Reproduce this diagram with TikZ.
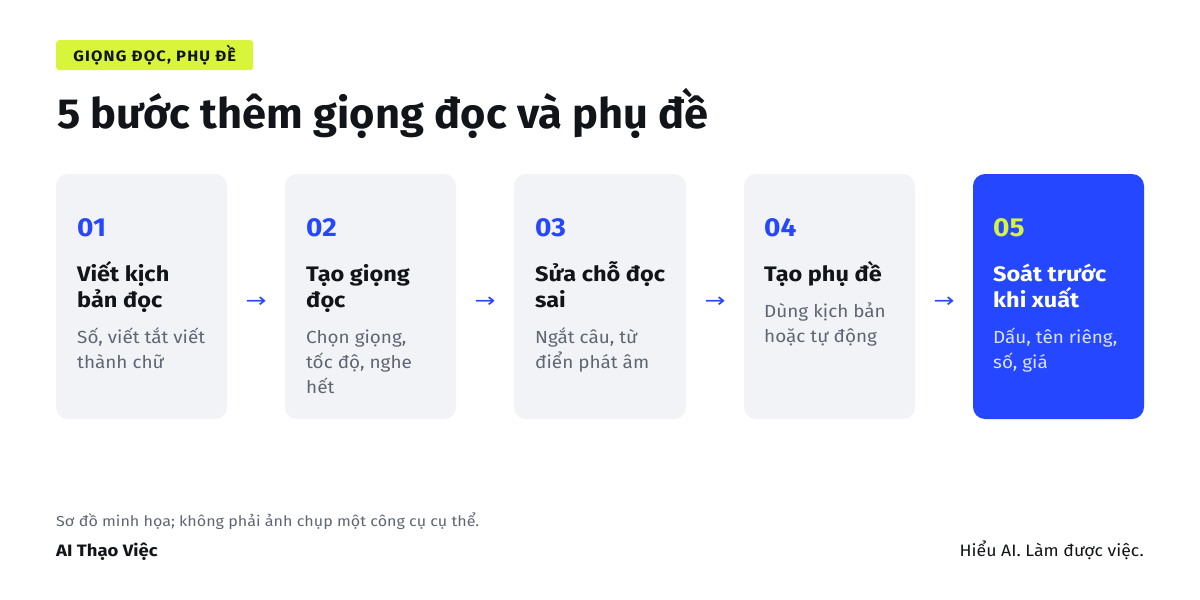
\documentclass[tikz,border=0pt]{standalone}
\usepackage{fontspec}
\setmainfont{Fira Sans}
\newfontfamily\arrowfont{DejaVu Sans}
\definecolor{cardgray}{HTML}{F2F3F7}
\definecolor{brandblue}{HTML}{2447FF}
\definecolor{lime}{HTML}{D8F53C}
\definecolor{limetext}{HTML}{D4F53A}
\definecolor{ink}{HTML}{111418}
\definecolor{muted}{HTML}{5F6673}
\definecolor{paletext}{HTML}{DCE2FF}
\tikzset{
  card/.style={fill=cardgray, rounded corners=12pt, draw=none},
  hotcard/.style={fill=brandblue, rounded corners=12pt, draw=none},
  frame/.style={inner sep=0pt, minimum width=171pt, minimum height=245pt, anchor=north west},
  txt/.style={inner sep=0pt, anchor=base west},
  num/.style={txt, font=\fontsize{26}{26}\selectfont\bfseries\addfontfeature{FakeStretch=1.08}, text=brandblue},
  head/.style={txt, font=\fontsize{21}{26}\selectfont\bfseries\addfontfeature{FakeStretch=1.12}, text=ink},
  desc/.style={txt, font=\fontsize{17.5}{25}\selectfont\addfontfeature{FakeStretch=1.08}, text=muted},
  flow/.style={inner sep=0pt, font=\arrowfont\fontsize{20}{20}\selectfont\addfontfeature{FakeStretch=1.25}, text=brandblue}
}
\begin{document}
\begin{tikzpicture}[x=1pt,y=-1pt]
\useasboundingbox[fill=white] (0,0) rectangle (1200,600);
% tag
\node[fill=lime, rounded corners=3pt, minimum width=197pt, minimum height=30pt, anchor=north west, inner sep=0pt,
  font=\fontsize{15}{15}\selectfont\bfseries\addfontfeature{FakeStretch=1.1,LetterSpace=8}, text=ink] (tag) at (56,40) {GIỌNG ĐỌC, PHỤ ĐỀ};
% title
\node[txt, font=\fontsize{42}{42}\selectfont\bfseries\addfontfeature{FakeStretch=1.033}, text=ink] (title) at (57,128) {5 bước thêm giọng đọc và phụ đề};
% cards
\fill[card] (56,174) rectangle (227,419);
\node[frame] (c1) at (56,174) {};
\fill[card] (285,174) rectangle (456,419);
\node[frame] (c2) at (285,174) {};
\fill[card] (514,174) rectangle (686,419);
\node[frame, minimum width=172pt] (c3) at (514,174) {};
\fill[card] (744,174) rectangle (915,419);
\node[frame] (c4) at (744,174) {};
\fill[hotcard] (973,174) rectangle (1144,419);
\node[frame] (c5) at (973,174) {};
% card 1
\node[num] (n1) at (77,236) {01};
\node[head] (h1a) at (77,281) {Viết kịch};
\node[head] (h1b) at (77,307) {bản đọc};
\node[desc] (d1a) at (77,343) {Số, viết tắt viết};
\node[desc] (d1b) at (77,368) {thành chữ};
% card 2
\node[num] (n2) at (306,236) {02};
\node[head] (h2a) at (306,281) {Tạo giọng};
\node[head] (h2b) at (306,307) {đọc};
\node[desc] (d2a) at (306,343) {Chọn giọng,};
\node[desc] (d2b) at (306,368) {tốc độ, nghe};
\node[desc] (d2c) at (306,393) {hết};
% card 3
\node[num] (n3) at (535,236) {03};
\node[head] (h3a) at (535,281) {Sửa chỗ đọc};
\node[head] (h3b) at (535,307) {sai};
\node[desc] (d3a) at (535,343) {Ngắt câu, từ};
\node[desc] (d3b) at (535,368) {điển phát âm};
% card 4
\node[num] (n4) at (764,236) {04};
\node[head] (h4a) at (764,281) {Tạo phụ đề};
\node[desc] (d4a) at (764,317) {Dùng kịch bản};
\node[desc] (d4b) at (764,342) {hoặc tự động};
% card 5
\node[num, text=limetext] (n5) at (993,236) {05};
\node[head, text=white] (h5a) at (993,281) {Soát trước};
\node[head, text=white] (h5b) at (993,307) {khi xuất};
\node[desc, text=paletext] (d5a) at (993,343) {Dấu, tên riêng,};
\node[desc, text=paletext] (d5b) at (993,368) {số, giá};
% arrows
\path (c1.east) -- (c2.west) node[flow, midway, yshift=-6pt] (a1) {→};
\path (c2.east) -- (c3.west) node[flow, midway, yshift=-6pt] (a2) {→};
\path (c3.east) -- (c4.west) node[flow, midway, yshift=-6pt] (a3) {→};
\path (c4.east) -- (c5.west) node[flow, midway, yshift=-6pt] (a4) {→};
% footer
\node[txt, font=\fontsize{14.5}{15}\selectfont\addfontfeature{FakeStretch=1.11}, text=muted] (note) at (56,526) {Sơ đồ minh họa; không phải ảnh chụp một công cụ cụ thể.};
\node[txt, font=\fontsize{16.5}{17}\selectfont\bfseries\addfontfeature{FakeStretch=1.12}, text=ink] (brand) at (56,556) {AI Thạo Việc};
\node[inner sep=0pt, anchor=base east, font=\fontsize{16.5}{17}\selectfont\addfontfeature{FakeStretch=1.07}, text=ink] (slogan) at (1144,556) {Hiểu AI. Làm được việc.};
\end{tikzpicture}
\end{document}
